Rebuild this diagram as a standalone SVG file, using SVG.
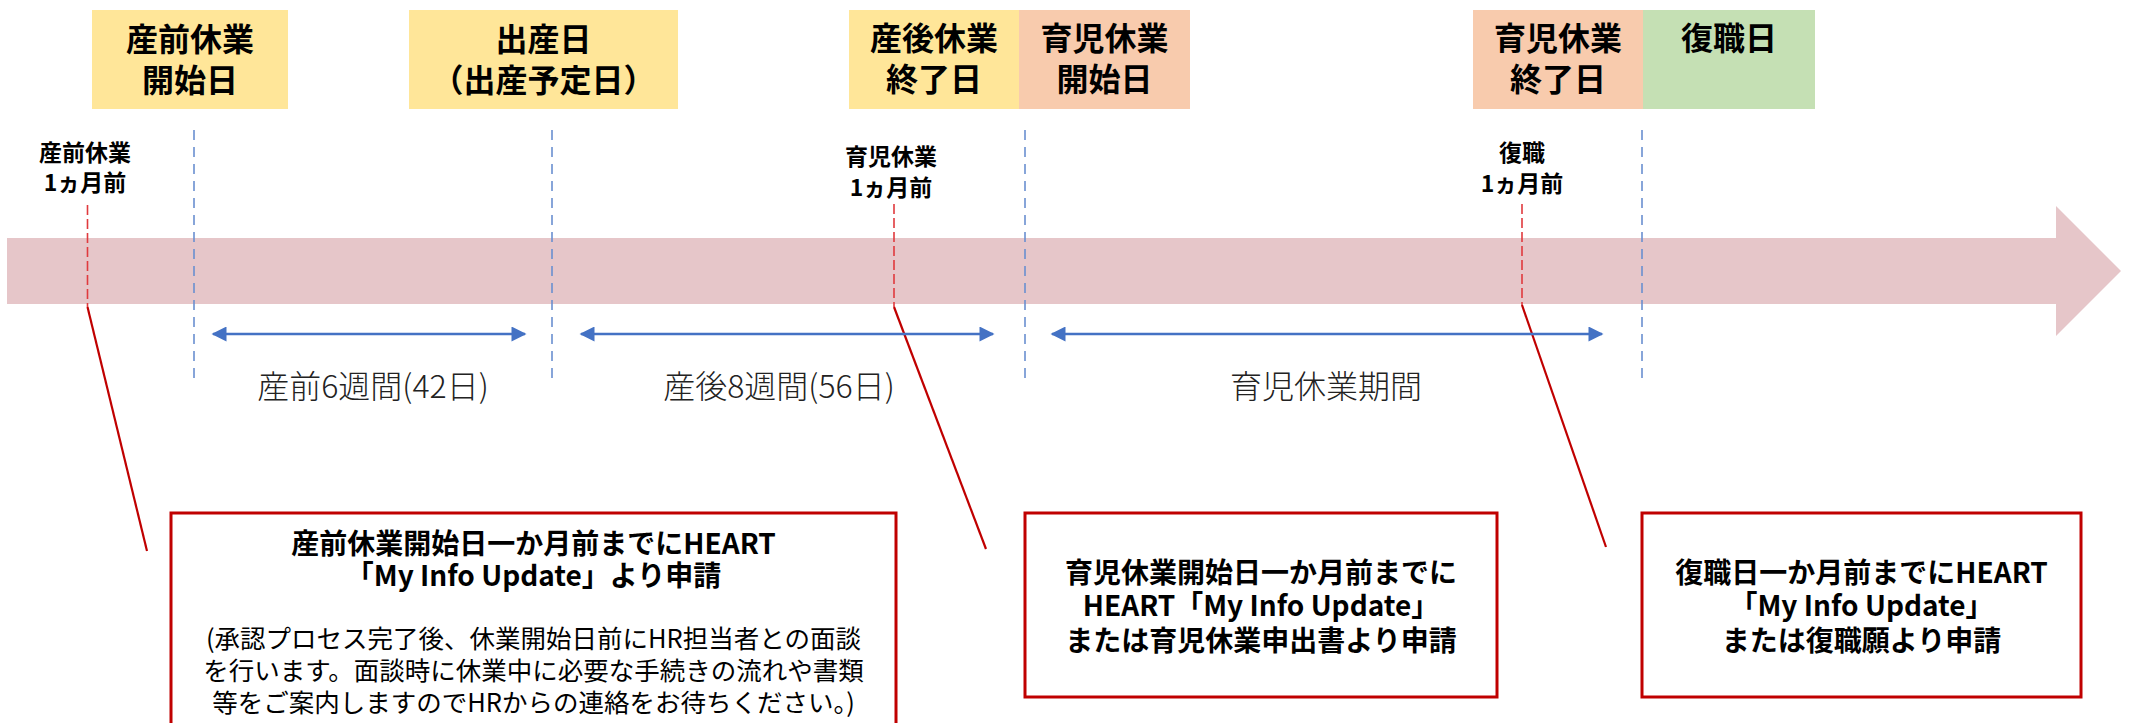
<svg xmlns="http://www.w3.org/2000/svg" width="2133" height="723" viewBox="0 0 2133 723">
<style>
text{font-family:"Noto Sans CJK JP","Noto Sans",sans-serif;fill:#000;text-anchor:middle}
.title{font-size:32px;font-weight:bold}
.small{font-size:23px;font-weight:bold}
.period{font-size:32px;font-weight:300;fill:#222}
.note{font-size:28px;font-weight:bold}
.para{font-size:25.5px;font-weight:normal}
.yellow{fill:#FFE699}
.orange{fill:#F8CBAD}
.green{fill:#C5E0B4}
.box{fill:#fff;stroke:#C00000;stroke-width:3}
.vdash{stroke:#6A8FD0;stroke-width:1.6;stroke-dasharray:10 7;fill:none}
.rdash{stroke:#E03A3E;stroke-width:1.6;stroke-dasharray:10 4;fill:none}
.lead{stroke:#C00000;stroke-width:2.2;fill:none}
.span{stroke:#4472C4;stroke-width:2.5;fill:none;marker-start:url(#ah);marker-end:url(#ah)}
</style>
<defs>
<marker id="ah" viewBox="0 0 10 10" refX="9" refY="5" markerUnits="userSpaceOnUse" markerWidth="17" markerHeight="15" orient="auto-start-reverse">
<path d="M0,0 L10,5 L0,10 z" fill="#4472C4"/>
</marker>
</defs>

<g id="timeline">
<polygon points="7,238 2056,238 2056,206 2121,271 2056,336 2056,304 7,304" fill="#E6C6C9"/>
</g>

<g id="node-sanzen-start">
<rect class="yellow" x="92" y="10" width="196" height="99"/>
<text class="title"><tspan x="190" y="51">産前休業</tspan><tspan x="190" y="92">開始日</tspan></text>
</g>
<g id="node-birth">
<rect class="yellow" x="409" y="10" width="269" height="99"/>
<text class="title"><tspan x="543.5" y="51">出産日</tspan><tspan x="543.5" y="92">（出産予定日）</tspan></text>
</g>
<g id="node-sango-end">
<rect class="yellow" x="849" y="10" width="170" height="99"/>
<text class="title"><tspan x="934" y="50">産後休業</tspan><tspan x="934" y="91">終了日</tspan></text>
</g>
<g id="node-ikuji-start">
<rect class="orange" x="1019" y="10" width="171" height="99"/>
<text class="title"><tspan x="1104.5" y="50">育児休業</tspan><tspan x="1104.5" y="91">開始日</tspan></text>
</g>
<g id="node-ikuji-end">
<rect class="orange" x="1473" y="10" width="170" height="99"/>
<text class="title"><tspan x="1558" y="50">育児休業</tspan><tspan x="1558" y="91">終了日</tspan></text>
</g>
<g id="node-return">
<rect class="green" x="1643" y="10" width="172" height="99"/>
<text class="title" x="1729" y="50">復職日</text>
</g>

<g id="label-sanzen-1m">
<text class="small"><tspan x="85" y="161">産前休業</tspan><tspan x="85" y="191">1ヵ月前</tspan></text>
</g>
<g id="label-ikuji-1m">
<text class="small"><tspan x="891" y="165">育児休業</tspan><tspan x="891" y="196">1ヵ月前</tspan></text>
</g>
<g id="label-return-1m">
<text class="small"><tspan x="1522" y="161">復職</tspan><tspan x="1522" y="192">1ヵ月前</tspan></text>
</g>

<g id="connectors">
<line class="vdash" x1="194" y1="130" x2="194" y2="382"/>
<line class="vdash" x1="552" y1="130" x2="552" y2="382"/>
<line class="vdash" x1="1025" y1="130" x2="1025" y2="382"/>
<line class="vdash" x1="1642" y1="130" x2="1642" y2="382"/>
<line class="rdash" x1="87.5" y1="205" x2="87.5" y2="307"/>
<line class="rdash" x1="894" y1="204" x2="894" y2="307"/>
<line class="rdash" x1="1522" y1="204" x2="1522" y2="305"/>
<line class="lead" x1="87.5" y1="307" x2="147" y2="551"/>
<line class="lead" x1="894" y1="307" x2="986" y2="549"/>
<line class="lead" x1="1522" y1="305" x2="1606" y2="547"/>
<line class="span" x1="213" y1="334" x2="525" y2="334"/>
<line class="span" x1="581" y1="334" x2="993" y2="334"/>
<line class="span" x1="1052" y1="334" x2="1602" y2="334"/>
</g>

<g id="period-labels">
<text class="period" x="373" y="398">産前6週間(42日)</text>
<text class="period" x="779" y="398">産後8週間(56日)</text>
<text class="period" x="1326" y="398">育児休業期間</text>
</g>

<g id="note-sanzen">
<rect class="box" x="171" y="513" width="725" height="230"/>
<text class="note"><tspan x="533.5" y="554">産前休業開始日一か月前までにHEART</tspan><tspan x="533.5" y="586">「My Info Update」より申請</tspan></text>
<text class="para"><tspan x="533.5" y="648">(承認プロセス完了後、休業開始日前にHR担当者との面談</tspan><tspan x="533.5" y="680">を行います。面談時に休業中に必要な手続きの流れや書類</tspan><tspan x="533.5" y="712">等をご案内しますのでHRからの連絡をお待ちください。)</tspan></text>
</g>
<g id="note-ikuji">
<rect class="box" x="1025" y="513" width="472" height="184"/>
<text class="note"><tspan x="1261" y="583">育児休業開始日一か月前までに</tspan><tspan x="1261" y="616">HEART「My Info Update」</tspan><tspan x="1261" y="651">または育児休業申出書より申請</tspan></text>
</g>
<g id="note-return">
<rect class="box" x="1642" y="513" width="439" height="184"/>
<text class="note"><tspan x="1861.5" y="583">復職日一か月前までにHEART</tspan><tspan x="1861.5" y="616">「My Info Update」</tspan><tspan x="1861.5" y="651">または復職願より申請</tspan></text>
</g>
</svg>
